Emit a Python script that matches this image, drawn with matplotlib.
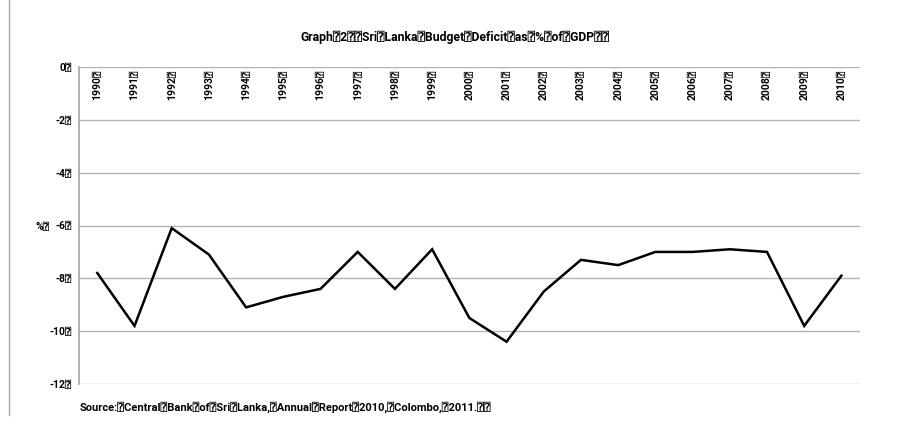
import matplotlib
matplotlib.use("Agg")
import matplotlib.pyplot as plt
from matplotlib.lines import Line2D

B = "\u2370"  # rendered placeholder glyph seen in the reference

years = [str(y) for y in range(1990, 2011)]
deficit = [-7.8, -9.8, -6.1, -7.1, -9.1, -8.7, -8.4, -7.0, -8.4, -6.9,
           -9.5, -10.4, -8.5, -7.3, -7.5, -7.0, -7.0, -6.9, -7.0, -9.8, -7.9]
yticks = [0, -2, -4, -6, -8, -10, -12]

title = "Graph" + B + "2" + B + B + "Sri" + B + "Lanka" + B + "Budget" + B + "Deficit" + B + "as" + B + "%" + B + "of" + B + "GDP" + B + B
source = ("Source:" + B + "Central" + B + "Bank" + B + "of" + B + "Sri" + B + "Lanka," + B + "Annual" + B +
          "Report" + B + "2010," + B + "Colombo," + B + "2011." + B + B)

FAM = ["Roboto", "DejaVu Sans", "DejaVu Sans Mono"]
plt.rcParams["font.family"] = FAM
W = "bold"

fig = plt.figure(figsize=(9.02, 4.26), dpi=100)
ax = fig.add_axes([78.7 / 902, 1 - 384 / 426, (860 - 78.7) / 902, (384 - 67) / 426])

x = list(range(len(years)))
ax.plot(x, deficit, color="black", lw=1.8, solid_joinstyle="miter")
ax.set_xlim(-0.5, len(years) - 0.5)
ax.set_ylim(-12, 0)
ax.set_yticks(yticks)
ax.set_yticklabels([f"{v}" + B for v in yticks], fontsize=7.5, fontweight=W)
ax.tick_params(axis="y", length=0, pad=5)
ax.set_xticks([])
for xi, lab in zip(x, years):
    ax.text(xi, -0.1, lab + B, rotation=90, ha="center", va="top",
            fontsize=7.5, fontweight=W)
ax.grid(axis="y", color="#b3b3b3", lw=1.0)
ax.set_axisbelow(True)
for s in ["top", "right", "bottom"]:
    ax.spines[s].set_visible(False)
ax.spines["left"].set_color("#a6a6a6")
ax.spines["left"].set_linewidth(1.2)

fig.add_artist(Line2D([9 / 902, 9 / 902], [1 - 415 / 426, 1.0], color="#a6a6a6", lw=1.0))

fig.text(35 / 902, 1 - 227 / 426, "%" + B, fontsize=7.5, fontweight=W, ha="left", va="center")
fig.text(455 / 902, 1 - 37 / 426, title, fontsize=8.8, fontweight=W, ha="center", va="center")
fig.text(80 / 902, 1 - 407 / 426, source, fontsize=8.0, fontweight=W, ha="left", va="center")

fig.savefig("out.png", dpi=100)
